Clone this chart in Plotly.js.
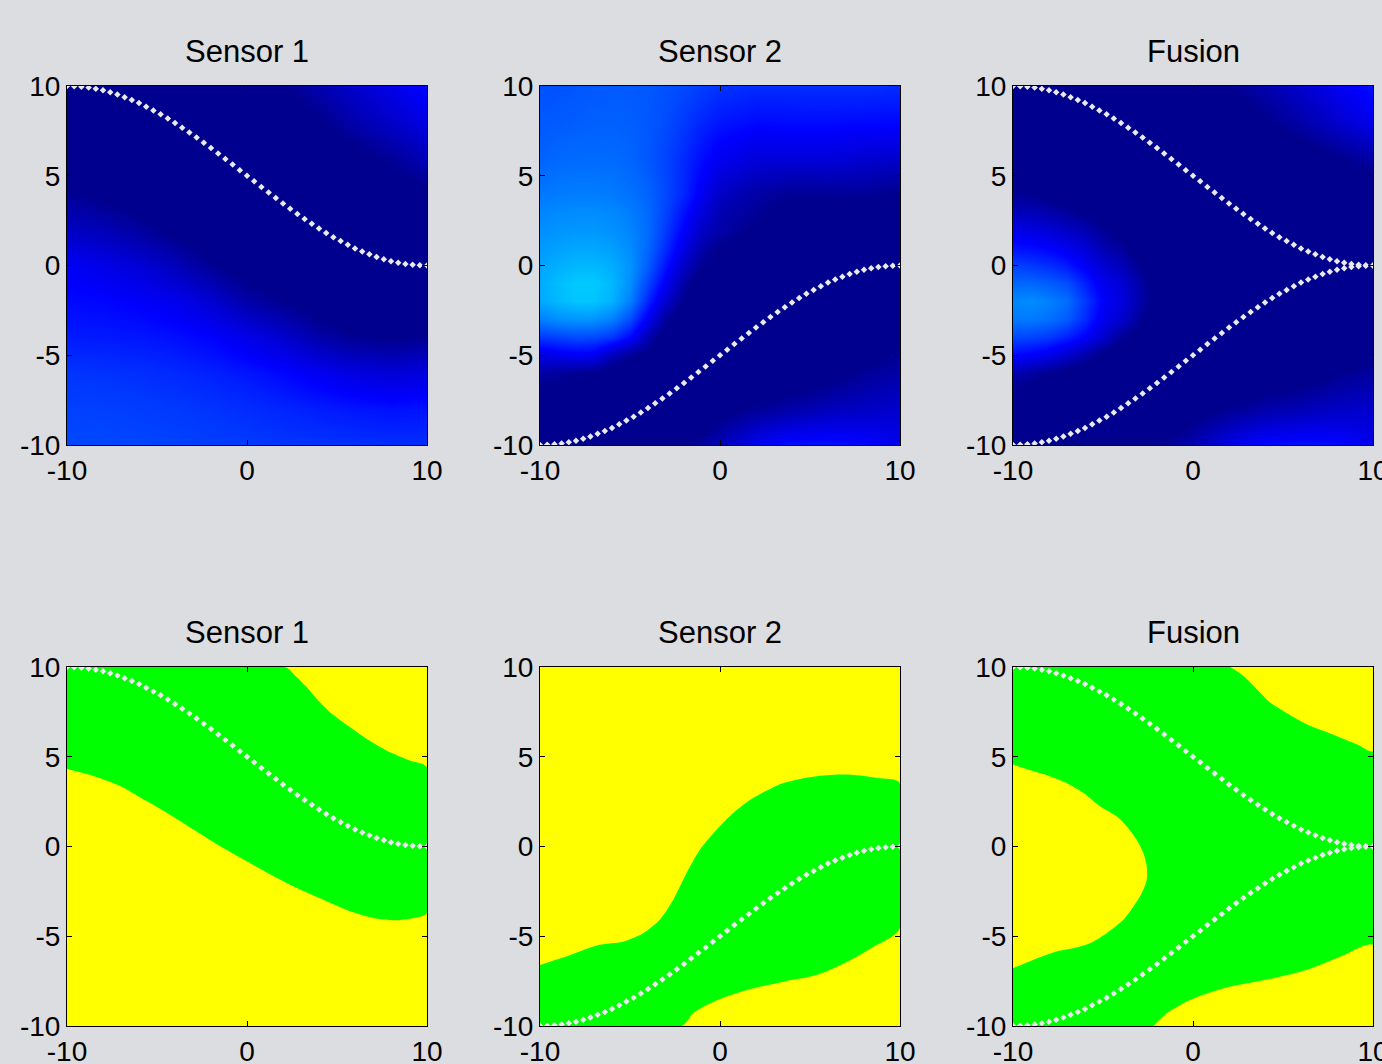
<!DOCTYPE html>
<html><head><meta charset="utf-8">
<script src="https://cdn.plot.ly/plotly-3.0.1.min.js"></script>
<style>html,body{margin:0;padding:0;background:#dcdde0;} #chart{width:1382px;height:1064px;}</style>
</head><body><div id="chart"></div>
<script>
// ---------- data ----------
const panelTitles = ['Sensor 1', 'Sensor 2', 'Fusion', 'Sensor 1', 'Sensor 2', 'Fusion'];
const axisRange = [-10, 10];
const xTickVals = [-10, 0, 10];
const xTickText = ['-10', '0', '10'];
const yTickVals = [-10, -5, 0, 5, 10];
const yTickText = ['-10', '-5', '0', '5', '10'];

// dotted paths
const pathX = [-10,-9.6,-9.2,-8.8,-8.4,-8,-7.6,-7.2,-6.8,-6.4,-6,-5.6,-5.2,-4.8,-4.4,-4,-3.6,-3.2,-2.8,-2.4,-2,-1.6,-1.2,-0.8,-0.4,0,0.4,0.8,1.2,1.6,2,2.4,2.8,3.2,3.6,4,4.4,4.8,5.2,5.6,6,6.4,6.8,7.2,7.6,8,8.4,8.8,9.2,9.6,10];
const path1Y = [10,9.99,9.96,9.91,9.84,9.76,9.65,9.52,9.38,9.22,9.05,8.85,8.64,8.42,8.19,7.94,7.68,7.41,7.13,6.84,6.55,6.24,5.94,5.63,5.31,5.00,4.69,4.37,4.06,3.76,3.45,3.16,2.87,2.59,2.32,2.06,1.81,1.58,1.36,1.15,0.95,0.78,0.62,0.48,0.35,0.24,0.16,0.09,0.04,0.01,0];
const path2Y = [-10,-9.99,-9.96,-9.91,-9.84,-9.76,-9.65,-9.52,-9.38,-9.22,-9.05,-8.85,-8.64,-8.42,-8.19,-7.94,-7.68,-7.41,-7.13,-6.84,-6.55,-6.24,-5.94,-5.63,-5.31,-5.00,-4.69,-4.37,-4.06,-3.76,-3.45,-3.16,-2.87,-2.59,-2.32,-2.06,-1.81,-1.58,-1.36,-1.15,-0.95,-0.78,-0.62,-0.48,-0.35,-0.24,-0.16,-0.09,-0.04,-0.01,0];

// sensor 1 field (colormap position), rows = y ascending
const s1GridX = [-10,-8,-6,-4,-2,0,2,4,6,8,10];
const s1GridY = [-10,-8,-6,-4,-2,0,2,4,6,8,10];
const s1Z = [
  [.196,.195,.193,.19,.186,.182,.178,.175,.172,.17,.17],
  [.188,.187,.184,.18,.175,.168,.16,.152,.145,.14,.143],
  [.176,.174,.17,.164,.156,.145,.13,.11,.09,.08,.09],
  [.15,.148,.145,.138,.125,.1,.07,.03,.005,-.005,.005],
  [.133,.128,.12,.105,.075,.03,.0,-.03,-.05,-.06,-.06],
  [.115,.1,.08,.05,.008,-.03,-.05,-.06,-.06,-.06,-.06],
  [.06,.045,.02,-.012,-.04,-.06,-.06,-.06,-.06,-.06,-.06],
  [.01,-.01,-.03,-.05,-.06,-.06,-.06,-.05,-.04,-.03,-.015],
  [-.04,-.05,-.06,-.06,-.06,-.06,-.05,-.04,-.02,.01,.05],
  [-.05,-.06,-.06,-.06,-.06,-.05,-.035,-.005,.035,.065,.095],
  [-.05,-.06,-.06,-.06,-.05,-.03,.0,.035,.07,.1,.133]
];

const fineGridX = [-10,-9,-8,-7,-6,-5,-4,-3,-2,-1,0,2,4,6,8,10];
const fineGridY = [-10,-8,-6,-5,-4,-3,-2,-1,0,1,2,3,4,6,8,10];
const s2Z = [
  [-.05,-.05,-.05,-.05,-.05,-.05,-.05,-.05,-.003,.02,.05,.11,.141,.141,.133,.1],
  [-.05,-.05,-.05,-.05,-.05,-.05,-.05,-.05,-.05,-.05,-.02,.008,.03,.05,.06,.07],
  [.025,.015,.005,-.005,-.03,-.04,-.05,-.05,-.05,-.05,-.05,-.05,-.04,-.02,.01,.03],
  [.09,.105,.115,.11,.05,.01,-.015,-.05,-.05,-.05,-.05,-.05,-.05,-.04,-.02,.01],
  [.18,.19,.198,.195,.178,.13,.04,-.03,-.05,-.05,-.05,-.05,-.05,-.05,-.04,-.02],
  [.25,.265,.272,.27,.25,.2,.11,.012,-.04,-.05,-.05,-.05,-.05,-.05,-.05,-.04],
  [.289,.307,.318,.318,.3,.25,.16,.07,-.005,-.05,-.05,-.05,-.05,-.05,-.05,-.05],
  [.293,.31,.322,.322,.305,.265,.19,.11,.025,-.04,-.05,-.05,-.05,-.05,-.05,-.05],
  [.285,.297,.305,.305,.295,.27,.215,.14,.06,.003,-.03,-.05,-.05,-.05,-.05,-.05],
  [.275,.283,.288,.288,.28,.262,.225,.165,.095,.03,-.005,-.04,-.05,-.05,-.05,-.05],
  [.265,.27,.273,.273,.267,.255,.23,.18,.12,.06,.03,-.01,-.04,-.04,-.04,-.04],
  [.255,.26,.262,.262,.258,.248,.228,.19,.14,.085,.04,.01,-.02,-.02,-.02,-.02],
  [.242,.246,.248,.248,.245,.237,.222,.195,.16,.11,.06,.025,.005,.01,.01,-.005],
  [.222,.227,.229,.229,.229,.224,.21,.19,.165,.135,.11,.085,.085,.085,.075,.07],
  [.211,.214,.217,.219,.219,.217,.21,.198,.18,.16,.145,.133,.135,.135,.132,.13],
  [.203,.205,.208,.211,.213,.213,.211,.205,.196,.185,.175,.168,.168,.17,.17,.166]
];
const fuZ = [
  [-.05,-.05,-.05,-.05,-.05,-.05,-.05,-.05,.0,.02,.04,.1,.133,.141,.133,.1],
  [-.05,-.05,-.05,-.05,-.05,-.05,-.05,-.05,-.05,-.05,-.02,.005,.03,.045,.06,.07],
  [.04,.02,.0,-.02,-.03,-.05,-.05,-.05,-.05,-.05,-.05,-.04,-.04,-.03,.0,.02],
  [.13,.12,.1,.07,.03,-.01,-.04,-.05,-.05,-.05,-.05,-.05,-.05,-.05,-.03,-.02],
  [.195,.19,.18,.155,.12,.07,.01,-.03,-.05,-.05,-.05,-.05,-.05,-.05,-.05,-.04],
  [.245,.245,.235,.215,.165,.105,.07,.015,-.05,-.05,-.05,-.05,-.05,-.05,-.05,-.05],
  [.258,.262,.25,.232,.18,.12,.09,.035,-.02,-.05,-.05,-.05,-.05,-.05,-.05,-.05],
  [.225,.225,.215,.2,.155,.105,.08,.03,-.02,-.05,-.05,-.05,-.05,-.05,-.05,-.05],
  [.19,.18,.17,.15,.115,.075,.05,.005,-.05,-.05,-.05,-.05,-.05,-.05,-.05,-.05],
  [.14,.135,.125,.105,.08,.04,.015,-.03,-.05,-.05,-.05,-.05,-.05,-.05,-.05,-.05],
  [.1,.09,.08,.06,.04,.01,-.02,-.05,-.05,-.05,-.05,-.05,-.05,-.05,-.05,-.05],
  [.05,.045,.03,.015,-.005,-.03,-.05,-.05,-.05,-.05,-.05,-.05,-.05,-.05,-.05,-.05],
  [.01,.0,-.01,-.03,-.05,-.05,-.05,-.05,-.05,-.05,-.05,-.05,-.05,-.05,-.05,-.05],
  [-.03,-.04,-.05,-.05,-.05,-.05,-.05,-.05,-.05,-.05,-.05,-.05,-.05,-.03,-.005,.03],
  [-.05,-.05,-.05,-.05,-.05,-.05,-.05,-.05,-.05,-.05,-.05,-.04,-.005,.03,.07,.105],
  [-.05,-.05,-.05,-.05,-.05,-.05,-.05,-.05,-.05,-.05,-.05,.0,.035,.07,.11,.141]
];

// bottom row: green-band boundaries
const s1BandTopX = [-10, 2.11, 2.67, 3.31, 3.87, 4.61, 5.73, 6.66, 7.77, 9.07, 10];
const s1BandTopY = [10, 10, 9.53, 8.88, 8.23, 7.48, 6.64, 5.99, 5.34, 4.78, 4.41];
const s1BandBotX = [-10, -8.57, -7.08, -5.78, -4.48, -3.0, -1.51, -0.03, 1.46, 2.94, 4.43, 5.73, 7.03, 8.14, 9.26, 10];
const s1BandBotY = [4.32, 3.94, 3.38, 2.64, 1.89, 0.96, 0.03, -0.81, -1.65, -2.4, -3.05, -3.61, -3.98, -4.11, -3.98, -3.7];

const s2BandTopX = [-10, -8.55, -6.7, -5.4, -4.27, -3.35, -2.6, -1.86, -1.12, -0.19, 0.74, 1.86, 3.53, 5.39, 7.25, 8.74, 10];
const s2BandTopY = [-6.6, -6.13, -5.48, -5.3, -4.83, -4.08, -2.97, -1.48, -0.18, 0.94, 1.87, 2.71, 3.54, 3.92, 4.0, 3.82, 3.54];
const s2BandBotX = [-10, -2.14, -1.49, -0.74, 0.37, 1.86, 3.53, 5.39, 7.25, 8.55, 10];
const s2BandBotY = [-10, -10, -9.29, -8.83, -8.36, -7.9, -7.53, -7.15, -6.32, -5.57, -4.55];

// fusion: yellow regions
const fuTopRightX = [2.07, 2.81, 3.56, 4.3, 5.04, 6.34, 7.27, 8.2, 9.13, 10];
const fuTopRightY = [10, 9.5, 8.75, 8.01, 7.54, 6.8, 6.43, 6.06, 5.68, 5.31];
const fuLeftX = [-10, -8.89, -7.96, -7.03, -6.1, -5.17, -4.24, -3.69, -3.13, -2.76, -2.57, -2.57, -2.85, -3.31, -3.87, -4.8, -5.73, -6.66, -7.59, -8.89, -10];
const fuLeftY = [4.57, 4.2, 3.92, 3.54, 2.99, 2.24, 1.68, 1.13, 0.38, -0.36, -1.11, -1.85, -2.6, -3.34, -4.08, -4.83, -5.39, -5.67, -5.85, -6.32, -6.78];
const fuBotRightX = [-2.2, -1.46, -0.16, 1.7, 4.48, 6.34, 8.2, 10];
const fuBotRightY = [-10, -9.29, -8.55, -7.9, -7.34, -6.87, -6.13, -5.48];

// ---------- styling ----------
const W = 1382, H = 1064;
const FONT = 'Liberation Sans, Arial, Helvetica, sans-serif';
const BG = '#dcdde0';
const GREEN = '#00ff00', YELLOW = '#ffff00';
const DOT = 'rgb(234,234,238)';
const jet = [[0,'rgb(0,0,143)'],[0.125,'rgb(0,0,255)'],[0.375,'rgb(0,255,255)'],[0.625,'rgb(255,255,0)'],[0.875,'rgb(255,0,0)'],[1,'rgb(128,0,0)']];
const colsPx = [[67,427],[540,900],[1013,1373]];
const rowsPx = [[86,445],[667,1026]];
const titleCenterPx = [51.5, 632];

const traces = [];
function ax(i){ return i === 0 ? '' : String(i+1); }
function heat(i, gx, gy, z){
  traces.push({type:'heatmap', x:gx, y:gy, z:z, zsmooth:'best', zmin:0, zmax:1, zauto:false,
    colorscale:jet, showscale:false, hoverinfo:'skip', xaxis:'x'+ax(i), yaxis:'y'+ax(i)});
}
function dots(i, ys){
  traces.push({type:'scatter', mode:'markers', x:pathX, y:ys, hoverinfo:'skip',
    marker:{symbol:'diamond', size:5, color:DOT, line:{width:0}},
    xaxis:'x'+ax(i), yaxis:'y'+ax(i)});
}
function poly(i, xs, ys, color, smooth){
  const line = smooth ? {width:0, color:color, shape:'spline', smoothing:0.8} : {width:0, color:color};
  traces.push({type:'scatter', mode:'lines', x:xs, y:ys, fill:'toself', fillcolor:color,
    line:line, hoverinfo:'skip', xaxis:'x'+ax(i), yaxis:'y'+ax(i)});
}

// top row
heat(0, s1GridX, s1GridY, s1Z); dots(0, path1Y);
heat(1, fineGridX, fineGridY, s2Z); dots(1, path2Y);
heat(2, fineGridX, fineGridY, fuZ); dots(2, path1Y); dots(2, path2Y);

// bottom row
poly(3, s1BandTopX.concat(s1BandBotX.slice().reverse()), s1BandTopY.concat(s1BandBotY.slice().reverse()), GREEN, true);
dots(3, path1Y);
poly(4, s2BandTopX.concat(s2BandBotX.slice().reverse()), s2BandTopY.concat(s2BandBotY.slice().reverse()), GREEN, true);
dots(4, path2Y);
const r0 = axisRange[0], r1 = axisRange[1];
poly(5, [r0, r1, r1, r0], [r0, r0, r1, r1], GREEN, false);
poly(5, fuTopRightX.concat([r1]), fuTopRightY.concat([r1]), YELLOW, true);
poly(5, fuLeftX, fuLeftY, YELLOW, true);
poly(5, fuBotRightX.concat([r1]), fuBotRightY.concat([r0]), YELLOW, true);
dots(5, path1Y); dots(5, path2Y);

const layout = {
  width: W, height: H, margin:{l:0, r:0, t:0, b:0},
  paper_bgcolor: BG, plot_bgcolor: YELLOW, showlegend:false,
  font:{family:FONT, color:'#000'},
  annotations: []
};
for (let i = 0; i < 6; i++) {
  const c = colsPx[i % 3], r = rowsPx[Math.floor(i / 3)];
  const common = {range:axisRange.slice(), autorange:false, fixedrange:true, showgrid:false, zeroline:false,
    showline:true, linecolor:'#000', linewidth:1, mirror:'ticks', ticks:'inside', ticklen:5, tickwidth:1,
    tickcolor:'#000', tickfont:{family:FONT, size:28, color:'#000'}, tickmode:'array',
    ticklabeloverflow:'allow'};
  layout['xaxis'+ax(i)] = Object.assign({}, common, {domain:[c[0]/W, c[1]/W], anchor:'y'+ax(i),
    tickvals:xTickVals, ticktext:xTickText, ticklabelstandoff:0});
  layout['yaxis'+ax(i)] = Object.assign({}, common, {domain:[1 - r[1]/H, 1 - r[0]/H], anchor:'x'+ax(i),
    tickvals:yTickVals, ticktext:yTickText, ticklabelstandoff:0});
  layout.annotations.push({text:panelTitles[i], xref:'paper', yref:'paper', x:(c[0]+c[1])/2/W,
    y:1 - titleCenterPx[Math.floor(i/3)]/H, xanchor:'center', yanchor:'middle', showarrow:false,
    font:{family:FONT, size:31, color:'#000'}});
}
Plotly.newPlot('chart', traces, layout, {staticPlot:true, displayModeBar:false});
</script>
</body></html>
